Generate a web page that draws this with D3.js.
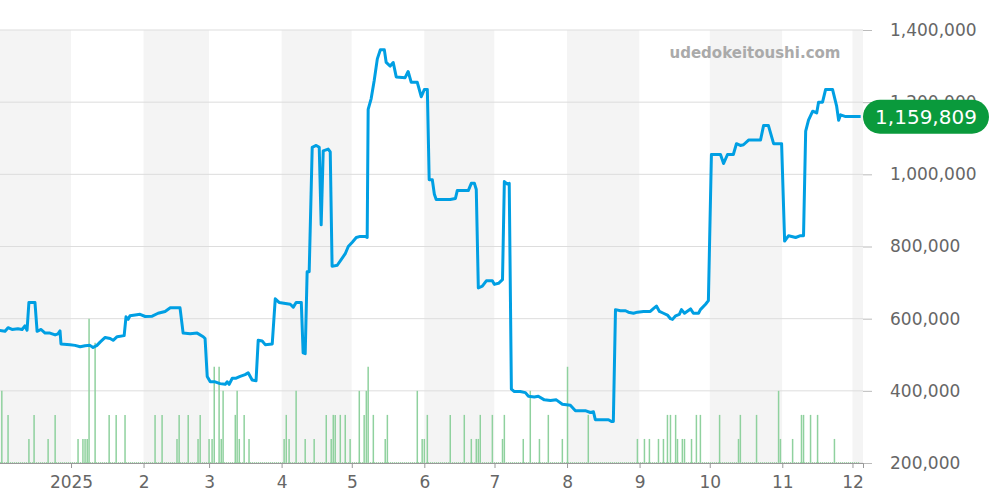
<!DOCTYPE html>
<html><head><meta charset="utf-8">
<script src="https://cdn.jsdelivr.net/npm/d3@7"></script>
<style>body{margin:0;background:#fff;font-family:"DejaVu Sans",sans-serif}</style>
</head><body><svg id="chart" width="1000" height="500"></svg>
<script>
// price series: days since 2024-12-01, price in yen
var priceDays = [0.6,2.8,4.1,5.8,8.3,10.1,11.3,12.2,13.0,15.6,16.5,18.2,19.9,22.0,24.2,25.4,26.3,26.7,30.6,32.7,34.9,37.0,39.1,40.4,42.1,43.4,45.6,47.7,49.0,50.7,53.7,54.5,55.4,56.2,58.4,60.5,62.7,65.7,68.2,71.2,73.4,77.6,78.9,81.9,84.9,87.5,88.3,89.2,90.5,92.6,94.7,96.9,97.7,98.6,99.9,101.6,103.3,105.4,106.7,108.4,110.1,111.0,112.7,114.0,117.0,118.3,119.9,124.7,126.0,127.2,129.4,130.2,131.1,131.9,132.8,134.1,135.8,137.1,137.9,138.8,140.9,141.8,142.6,144.8,146.1,148.2,149.5,151.2,152.9,154.6,156.8,157.6,158.0,159.3,160.6,161.9,163.2,164.9,165.7,167.4,168.7,170.0,173.8,175.1,176.4,179.0,180.7,182.0,183.3,184.1,185.4,186.3,187.1,191.0,193.1,195.3,196.1,200.8,202.1,203.4,204.2,205.1,206.8,208.5,211.1,211.9,213.7,215.4,216.2,217.5,218.3,219.2,220.5,223.0,225.2,226.5,229.0,230.7,233.3,235.9,238.4,241.0,244.4,246.6,250.8,253.0,254.3,255.1,260.7,262.0,262.8,263.7,265.8,268.0,269.2,271.4,273.1,275.7,278.6,279.9,281.2,282.5,284.2,285.9,287.2,288.1,289.4,291.0,291.9,293.2,295.8,297.0,299.2,300.0,302.2,303.4,304.7,308.6,309.9,311.6,314.1,315.4,317.1,318.4,320.6,325.7,327.0,329.1,331.3,334.7,336.0,337.7,340.7,342.8,344.1,345.0,346.2,348.0,349.7,350.5,352.2,353.5,356.5,358.2,359.1,359.9,362.1,368.5];
var prices = [567,565,575,570,572,570,580,568,645,645,565,570,560,560,555,558,566,530,528,526,522,525,526,520,526,535,548,545,540,550,553,605,598,608,610,612,606,607,615,620,630,630,560,558,560,550,545,440,425,425,420,418,425,418,435,435,440,445,450,430,428,540,538,528,530,655,645,640,632,645,645,505,503,730,730,1075,1080,1075,860,1065,1070,1062,745,748,760,780,800,812,825,828,828,825,1180,1210,1260,1320,1345,1345,1310,1300,1310,1270,1268,1285,1255,1255,1215,1235,1235,985,985,945,930,930,930,933,955,955,975,975,958,685,690,705,705,695,698,708,980,973,975,405,398,398,395,385,383,385,375,373,375,363,360,345,345,340,342,320,320,315,315,625,622,622,618,615,618,620,620,628,635,620,615,610,600,598,608,612,625,615,627,615,615,625,640,650,1055,1055,1030,1055,1055,1085,1080,1082,1095,1095,1135,1135,1085,1085,815,830,825,830,830,1120,1150,1175,1170,1200,1200,1235,1235,1190,1150,1165,1160,1160].map(v => v * 1000);
// listing counts
var volDays = [1.4,4.1,13.0,15.2,21.2,24.2,34.0,36.1,37.0,37.9,38.7,41.3,47.3,50.3,54.1,66.9,69.9,76.3,77.2,81.1,85.3,86.2,90.0,91.3,92.2,94.3,95.2,96.0,101.2,102.0,102.9,105.0,107.1,122.1,123.0,124.2,127.2,131.1,134.9,140.1,142.2,143.1,143.9,146.1,148.2,150.3,154.2,156.3,157.2,158.0,160.2,165.3,166.2,179.0,181.1,182.0,183.3,193.1,199.1,202.1,204.2,205.1,205.9,211.1,215.4,216.2,224.3,227.3,231.2,235.0,241.0,243.2,252.1,273.1,276.1,278.2,282.1,284.2,285.9,287.2,289.4,290.2,292.3,293.2,296.2,298.3,300.0,308.2,316.3,317.1,324.0,333.4,334.2,339.4,343.2,344.1,347.1,350.1,357.3];
var volCounts = [3,2,1,2,1,2,1,1,1,1,6,5,2,2,2,2,2,1,2,2,1,2,1,1,4,4,1,3,2,3,1,2,1,1,2,1,3,1,1,2,1,2,2,2,2,1,3,2,3,4,2,1,2,3,1,1,2,2,2,1,1,1,2,2,1,2,1,3,1,2,1,4,2,1,1,1,1,1,2,2,2,1,1,1,1,2,2,2,1,2,2,3,1,1,2,2,2,2,1];
var yTicks = [200000,400000,600000,800000,1000000,1200000,1400000];
var monthLabels = ["2025","2","3","4","5","6","7","8","9","10","11","12"];
var lastPrice = "1,159,809";

var start = new Date(2024, 11, 1);
var day = d => d3.timeHour.offset(start, Math.round(d * 24));

var svg = d3.select("#chart");
var x = d3.scaleTime().domain([new Date(2024, 11, 1), new Date(2025, 11, 5, 12)]).range([-1.5, 863]);
var y = d3.scaleLinear().domain([200000, 1400000]).range([463, 30]);
var yv = d3.scaleLinear().domain([0, 18]).range([463, 30]);

// alternating month bands
var months = d3.timeMonth.range(new Date(2024, 11, 1), new Date(2026, 0, 1));
svg.selectAll("rect.band").data(months).join("rect")
  .attr("x", d => Math.max(0, x(d)))
  .attr("width", d => Math.min(863, x(d3.timeMonth.offset(d, 1))) - Math.max(0, x(d)))
  .attr("y", 30).attr("height", 433)
  .attr("fill", (d, i) => i % 2 == 0 ? "#f4f4f4" : "#fff");

// grid lines + right axis
var yAxis = svg.append("g").attr("transform", "translate(863,0)")
  .call(d3.axisRight(y).tickValues(yTicks).tickSize(9).tickPadding(18).tickFormat(d3.format(",")));
yAxis.select(".domain").remove();
yAxis.selectAll("line").attr("stroke", "#bbb");
yAxis.selectAll("text").attr("fill", "#666").style("font-size", "17px").style("font-family", "DejaVu Sans");
svg.selectAll("line.grid").data(yTicks).join("line")
  .attr("x1", 0).attr("x2", 863).attr("y1", d => y(d)).attr("y2", d => y(d))
  .attr("stroke", "#ddd");

// watermark
svg.append("text").attr("x", 755).attr("y", 58).attr("text-anchor", "middle")
  .attr("fill", "#aaa").style("font-size", "15px").style("font-weight", "bold").text("udedokeitoushi.com");

// volume bars
svg.append("line").attr("x1", 0).attr("x2", 860).attr("y1", 462.5).attr("y2", 462.5)
  .attr("stroke", "#9fd8a8").attr("stroke-dasharray", "1,1");
svg.selectAll("line.vol").data(volDays).join("line")
  .attr("x1", (d) => x(day(d))).attr("x2", (d) => x(day(d)))
  .attr("y1", 463).attr("y2", (d, i) => yv(volCounts[i]))
  .attr("stroke", "#8fd19e").attr("stroke-width", 1.5);

// price line
var line = d3.line().x(d => x(day(d[0]))).y(d => y(d[1]));
svg.append("path").datum(priceDays.map((d, i) => [d, prices[i]]))
  .attr("d", line).attr("fill", "none").attr("stroke", "#009fe3")
  .attr("stroke-width", 3).attr("stroke-linejoin", "round");

// x axis
var xAxis = svg.append("g").attr("transform", "translate(0,463)")
  .call(d3.axisBottom(x).tickValues(d3.timeMonth.range(new Date(2025, 0, 1), new Date(2025, 11, 2)))
    .tickSize(5).tickPadding(8).tickFormat((d, i) => monthLabels[i]));
xAxis.select(".domain").attr("stroke", "#999");
xAxis.selectAll("line").attr("stroke", "#999");
xAxis.selectAll("text").attr("fill", "#666").style("font-size", "17px").style("font-family", "DejaVu Sans");

// last price callout
var ly = y(1159809);
svg.append("rect").attr("x", 863).attr("y", ly - 17).attr("width", 126).attr("height", 34)
  .attr("rx", 17).attr("fill", "#0a9a3c");
svg.append("text").attr("x", 926).attr("y", ly + 7).attr("text-anchor", "middle")
  .attr("fill", "#fff").style("font-size", "20px").text(lastPrice);
</script></body></html>
